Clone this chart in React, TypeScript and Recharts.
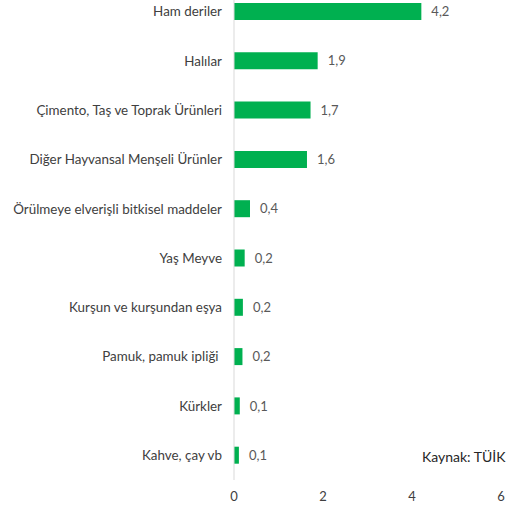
import React from "react";
import { BarChart, Bar, XAxis, YAxis, LabelList } from "recharts";

const categories = [
  "Ham deriler",
  "Halılar",
  "Çimento, Taş ve Toprak Ürünleri",
  "Diğer Hayvansal Menşeli Ürünler",
  "Örülmeye elverişli bitkisel maddeler",
  "Yaş Meyve",
  "Kurşun ve kurşundan eşya",
  "Pamuk, pamuk ipliği ",
  "Kürkler",
  "Kahve, çay vb",
];
const values = [4.21, 1.88, 1.72, 1.64, 0.36, 0.24, 0.2, 0.19, 0.13, 0.11];
const xTicks = [0, 2, 4, 6];
const sourceNote = "Kaynak: TÜİK";

const data = categories.map((name, i) => ({ name, value: values[i] }));

const FONT = "Lato, 'Open Sans', sans-serif";

const CategoryTick = (props: any) => {
  const { x, y, payload } = props;
  return (
    <text
      x={x}
      y={y}
      dy="0.35em"
      textAnchor="end"
      fill="#404040"
      fontSize={13.4}
      fontFamily={FONT}
      style={{ whiteSpace: "pre" }}
    >
      {payload.value}
    </text>
  );
};

export default function App() {
  return (
    <div style={{ position: "absolute", left: 0, top: -13, width: 526, height: 526 }}>
      <BarChart
        width={526}
        height={526}
        data={data}
        layout="vertical"
        margin={{ top: 0, right: 25, bottom: 3, left: 0 }}
      >
        <XAxis
          type="number"
          domain={[0, 6]}
          ticks={xTicks}
          axisLine={false}
          tickLine={false}
          tickSize={0}
          tickMargin={12}
          height={30}
          tick={{ fill: "#404040", fontSize: 13, fontFamily: FONT }}
        />
        <YAxis
          type="category"
          dataKey="name"
          width={234}
          axisLine={{ stroke: "#d9d9d9" }}
          tickLine={false}
          tickSize={0}
          tickMargin={12}
          interval={0}
          tick={<CategoryTick />}
        />
        <Bar dataKey="value" fill="#00b050" isAnimationActive={false} barSize={17}>
          <LabelList
            dataKey="value"
            position="right"
            offset={10}
            formatter={(v: number) => v.toFixed(1).replace(".", ",")}
            style={{ fill: "#595959", fontSize: 13, fontFamily: FONT }}
          />
        </Bar>
      </BarChart>
      <div
        style={{
          position: "absolute",
          left: 422,
          top: 461,
          fontSize: 14,
          fontFamily: FONT,
          color: "#262626",
          whiteSpace: "nowrap",
        }}
      >
        {sourceNote}
      </div>
    </div>
  );
}
